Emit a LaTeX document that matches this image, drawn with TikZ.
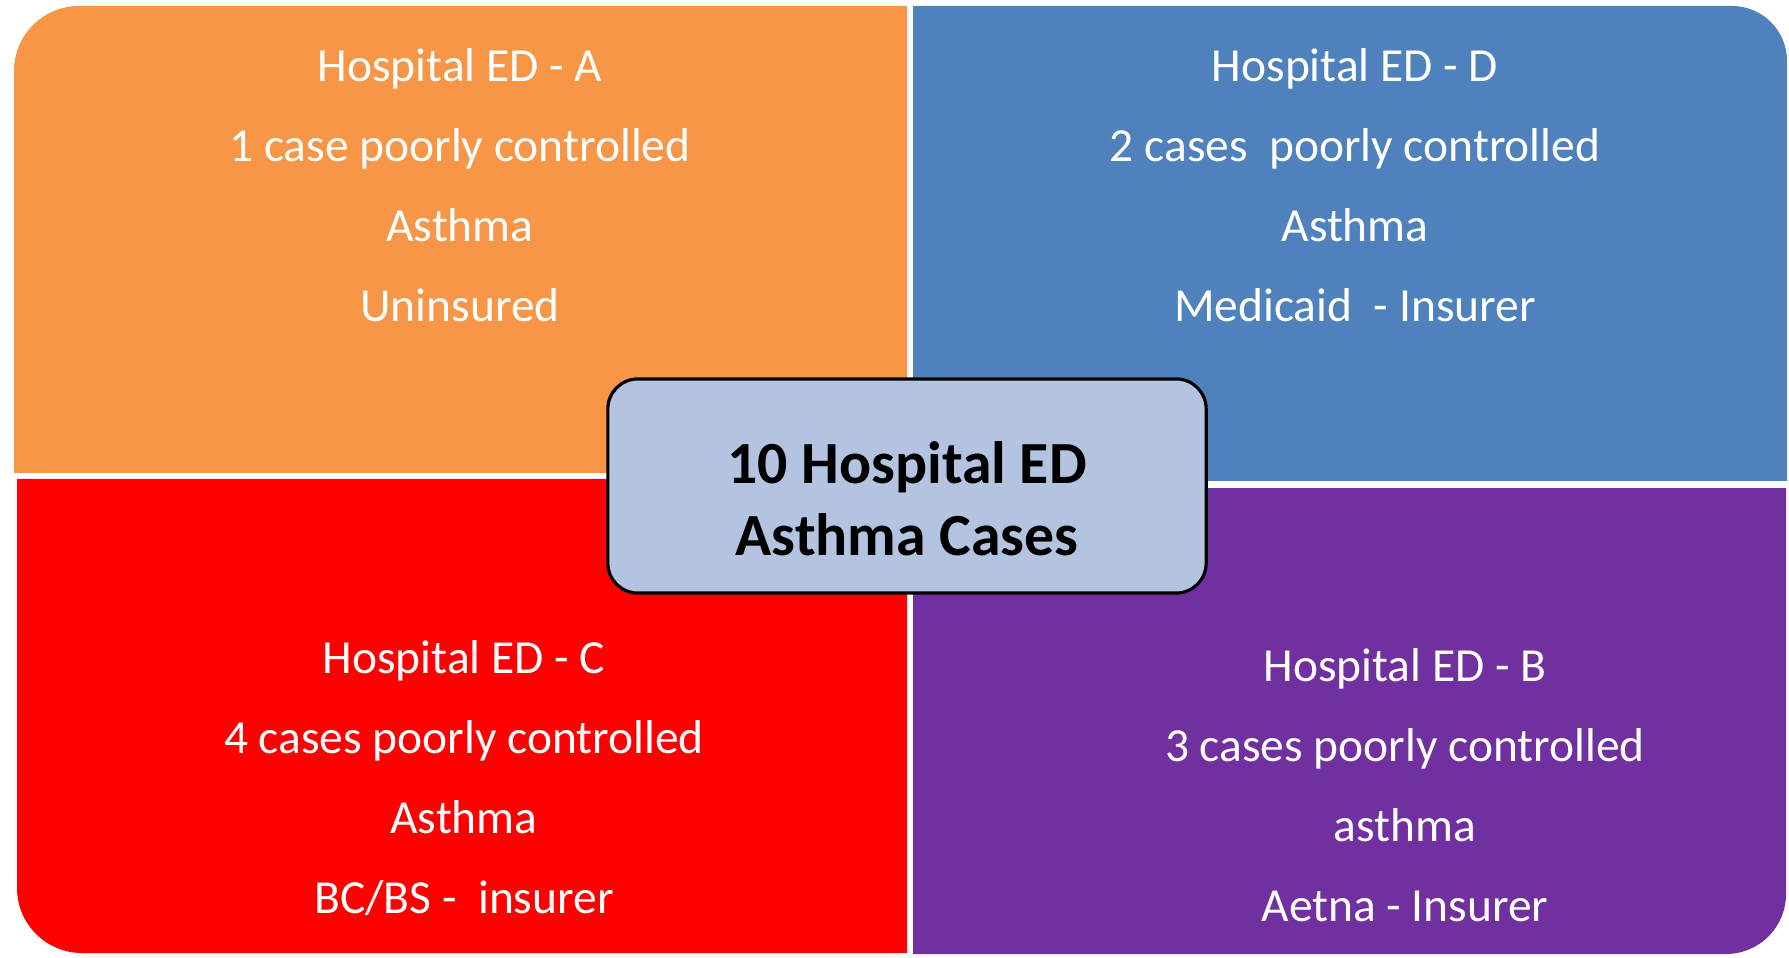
\documentclass[tikz,border=0pt]{standalone}
\usepackage{fontspec}
\setmainfont{Carlito}
\definecolor{edorange}{HTML}{F79646}
\definecolor{edblue}{HTML}{4F81BD}
\definecolor{edred}{HTML}{FF0000}
\definecolor{edpurple}{HTML}{7030A0}
\definecolor{hubblue}{HTML}{B4C3DF}
\tikzset{
  quadtext/.style={text=white, align=center, font=\fontsize{13.5}{22.7}\selectfont},
  hubbox/.style={draw=black, line width=0.9pt, fill=hubblue, rounded corners=0.3cm,
    minimum width=5.98cm, minimum height=2.14cm},
  hubtext/.style={align=center, font=\bfseries\fontsize{17}{20.5}\selectfont}
}
\begin{document}
\begin{tikzpicture}[x=0.01cm, y=0.01cm]
  \useasboundingbox (0,0) rectangle (1789,957);
  % Quadrants
  \fill[edorange] (907,484) -- (14,484) -- (14,886) arc[start angle=180, end angle=90, radius=65] -- (907,951) -- cycle;
  \fill[edblue] (913,476) -- (913,951) -- (1732,951) arc[start angle=90, end angle=0, radius=55] -- (1787,476) -- cycle;
  \fill[edred] (907,478) -- (17,478) -- (17,69) arc[start angle=180, end angle=270, radius=65] -- (907,4) -- cycle;
  \fill[edpurple] (913,469) -- (1786,469) -- (1786,63) arc[start angle=0, end angle=-90, radius=60] -- (913,3) -- cycle;
  % Quadrant texts
  \node[quadtext] (hospA) at (460,772) {Hospital ED - A\\1 case poorly controlled\\Asthma\\Uninsured};
  \node[quadtext] (hospD) at (1355,772) {Hospital ED - D\\2 cases\ \ poorly controlled\\Asthma\\Medicaid\ \ - Insurer};
  \node[quadtext] (hospC) at (464,179) {Hospital ED - C\\4 cases poorly controlled\\Asthma\\BC/BS -\ \ insurer};
  \node[quadtext] (hospB) at (1405,172) {Hospital ED - B\\3 cases poorly controlled\\asthma\\Aetna - Insurer};
  % Centre box
  \node[hubbox] (hub) at (907,471) {};
  \node[hubtext] (hublabel) at (907,458) {10 Hospital ED\\Asthma Cases};
\end{tikzpicture}
\end{document}
